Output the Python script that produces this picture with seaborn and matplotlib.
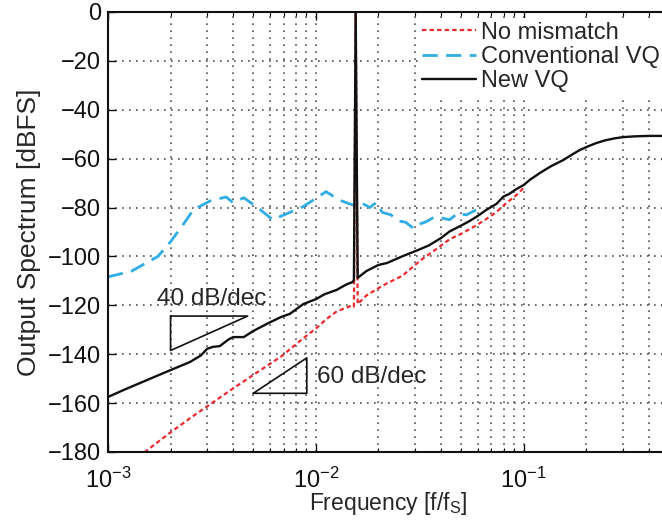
# Output spectrum of the three quantizer variants, with slope guides

import matplotlib
matplotlib.use("Agg")
import matplotlib.pyplot as plt
import pandas as pd
import seaborn as sns


# values (frequency in f/fs, level in dBFS)
NEW_VQ_FREQ = [
    1.0e-3, 1.2e-3, 1.5e-3, 2.0e-3, 2.48e-3, 2.8e-3, 3.0e-3, 3.2e-3, 3.45e-3,
    3.8e-3, 4.0e-3, 4.5e-3, 5.0e-3, 6.0e-3, 6.8e-3, 7.5e-3, 8.7e-3, 1.0e-2,
    1.1e-2, 1.26e-2, 1.4e-2, 1.5e-2, 1.525e-2, 1.555e-2, 1.59e-2, 1.75e-2,
    2.0e-2, 2.2e-2, 2.6e-2, 3.1e-2, 3.5e-2, 4.0e-2, 4.4e-2, 5.1e-2, 5.5e-2,
    6.0e-2, 6.6e-2, 7.4e-2, 8.0e-2, 8.5e-2, 9.2e-2, 1.0e-1, 1.07e-1, 1.2e-1,
    1.36e-1, 1.55e-1, 1.72e-1, 1.86e-1, 2.05e-1, 2.24e-1, 2.45e-1, 2.7e-1,
    3.0e-1, 3.4e-1, 4.0e-1, 4.5e-1, 5.0e-1,
]
NEW_VQ_DB = [
    -157.5, -154.5, -151.0, -146.5, -143.2, -140.5, -137.8, -137.0, -136.7,
    -134.0, -133.0, -133.0, -130.5, -127.0, -124.8, -123.5, -119.5, -117.5,
    -115.5, -113.7, -111.5, -110.5, -109.7, 0.0, -108.8, -106.0,
    -103.5, -102.7, -100.0, -97.4, -95.5, -92.5, -89.8, -87.0, -85.5,
    -83.5, -81.0, -78.5, -75.5, -74.5, -72.5, -70.8, -68.7, -65.8,
    -63.0, -60.6, -58.2, -56.5, -54.9, -53.6, -52.6, -51.8,
    -51.2, -50.9, -50.7, -50.7, -50.8,
]

NO_MISMATCH_FREQ = [
    1.4e-3, 2.0e-3, 2.5e-3, 3.1e-3, 4.0e-3, 5.0e-3, 6.0e-3, 6.8e-3, 7.5e-3,
    8.7e-3, 1.0e-2, 1.13e-2, 1.26e-2, 1.4e-2, 1.5e-2, 1.525e-2, 1.555e-2,
    1.59e-2, 1.75e-2, 2.0e-2, 2.2e-2, 2.6e-2, 3.2e-2, 3.8e-2, 4.4e-2,
    5.1e-2, 6.0e-2, 6.8e-2, 7.4e-2, 8.3e-2, 9.2e-2, 1.0e-1,
]
NO_MISMATCH_DB = [
    -182.0, -172.0, -166.0, -160.5, -154.0, -148.5, -144.0, -141.0, -138.0,
    -133.5, -129.5, -125.5, -122.5, -121.0, -120.0, -120.5, 0.0,
    -119.5, -116.0, -113.0, -111.0, -108.0, -101.5, -97.0, -93.0,
    -90.4, -87.0, -84.0, -81.8, -78.0, -75.0, -72.0,
]

CONV_VQ_FREQ = [
    1.0e-3, 1.3e-3, 1.74e-3, 2.0e-3, 2.3e-3, 2.57e-3, 3.1e-3, 3.7e-3, 4.0e-3,
    4.5e-3, 5.25e-3, 6.2e-3, 7.5e-3, 8.7e-3, 9.3e-3, 1.12e-2, 1.3e-2,
    1.51e-2, 1.65e-2, 1.82e-2, 1.95e-2, 2.09e-2, 2.3e-2, 2.5e-2, 2.7e-2,
    2.95e-2, 3.1e-2, 3.4e-2, 3.7e-2, 4.1e-2, 4.4e-2, 4.8e-2, 5.3e-2, 5.9e-2,
]
CONV_VQ_DB = [
    -108.4, -106.0, -100.0, -94.0, -87.0, -81.0, -77.3, -75.7, -78.0,
    -76.0, -80.0, -85.0, -82.0, -79.6, -78.0, -73.5, -77.0,
    -79.0, -78.0, -80.0, -78.0, -82.0, -83.0, -85.5, -86.0,
    -88.5, -87.0, -85.8, -84.0, -84.4, -85.0, -82.4, -83.0, -81.0,
]

# slope guide triangles (corner points) and their captions
SLOPE40_FREQ = [2.0e-3, 4.7e-3, 2.0e-3, 2.0e-3]
SLOPE40_DB = [-124.4, -124.4, -138.5, -124.4]
SLOPE60_FREQ = [5.0e-3, 9.05e-3, 9.05e-3, 5.0e-3]
SLOPE60_DB = [-156.0, -156.0, -141.5, -156.0]
SLOPE_LABELS = ["40 dB/dec", "60 dB/dec"]

Y_TICKS = list(range(-180, 1, 20))

sns.set_theme(style="ticks", rc={"xtick.direction": "in", "ytick.direction": "in"})
plt.rcParams["font.family"] = ["Liberation Sans", "DejaVu Sans"]
plt.rcParams["mathtext.fontset"] = "custom"
plt.rcParams["mathtext.rm"] = "Liberation Sans"
plt.rcParams["axes.unicode_minus"] = True

fig = plt.figure(figsize=(6.62, 5.29), dpi=100)
ax = fig.add_axes([0.1631, 0.1456, 0.8474, 0.8318])

conv = pd.DataFrame({"freq": CONV_VQ_FREQ, "db": CONV_VQ_DB})
nomis = pd.DataFrame({"freq": NO_MISMATCH_FREQ, "db": NO_MISMATCH_DB})
newvq = pd.DataFrame({"freq": NEW_VQ_FREQ, "db": NEW_VQ_DB})

sns.lineplot(data=conv, x="freq", y="db", ax=ax, color="#30ade4", linewidth=2.0,
             linestyle=(0, (5.5, 3)), estimator=None, sort=False, label="Conventional VQ")
sns.lineplot(data=nomis, x="freq", y="db", ax=ax, color="#ea2a2e", linewidth=1.6,
             linestyle=(0, (2, 1.4)), estimator=None, sort=False, label="No mismatch")
sns.lineplot(data=newvq, x="freq", y="db", ax=ax, color="#111111", linewidth=1.7,
             estimator=None, sort=False, label="New VQ")

# slope triangles
ax.plot(SLOPE40_FREQ, SLOPE40_DB, color="#111111", linewidth=1.2)
ax.plot(SLOPE60_FREQ, SLOPE60_DB, color="#111111", linewidth=1.2)
ax.text(1.72e-3, -117.5, SLOPE_LABELS[0], fontsize=17.5, ha="left", va="center")
ax.text(1.01e-2, -149.5, SLOPE_LABELS[1], fontsize=17.5, ha="left", va="center")

ax.set_xscale("log")
ax.set_xlim(1e-3, 0.5)
ax.set_ylim(-180, 0)
ax.set_yticks(Y_TICKS)

ax.grid(which="both", axis="x", color="#505050", linestyle=(0, (1, 3.2)), linewidth=1.2)
ax.grid(which="major", axis="y", color="#505050", linestyle=(0, (1, 3.2)), linewidth=1.2)
ax.set_axisbelow(True)

ax.tick_params(which="both", direction="in", top=True, right=True, colors="#111111")
ax.tick_params(which="major", length=6, width=1.0, labelsize=17, pad=5)
ax.tick_params(axis="x", which="major", pad=11)
ax.tick_params(which="minor", length=3, width=0.8)
for side in ["top", "left", "bottom", "right"]:
    ax.spines[side].set_color("#111111")
    ax.spines[side].set_linewidth(1.5)

ax.set_xlabel("Frequency [f/f$_\\mathrm{S}$]", fontsize=16.5, labelpad=-2)
ax.set_ylabel("Output Spectrum [dBFS]", fontsize=19)
ax.yaxis.set_label_coords(-0.119, 0.5)

handles, labels = ax.get_legend_handles_labels()
order = ["No mismatch", "Conventional VQ", "New VQ"]
hmap = dict(zip(labels, handles))
fig.legend(
    [hmap[k] for k in order], order,
    loc="upper left", bbox_to_anchor=(418 / 662, 1 - 18 / 529),
    frameon=True, facecolor="white", edgecolor="none", framealpha=1.0,
    fancybox=False, fontsize=17, borderpad=0.15, borderaxespad=0,
    handlelength=2.3, handletextpad=0.2, labelspacing=0.1,
)
ax.get_legend().remove()

fig.savefig("out.png", dpi=100)
